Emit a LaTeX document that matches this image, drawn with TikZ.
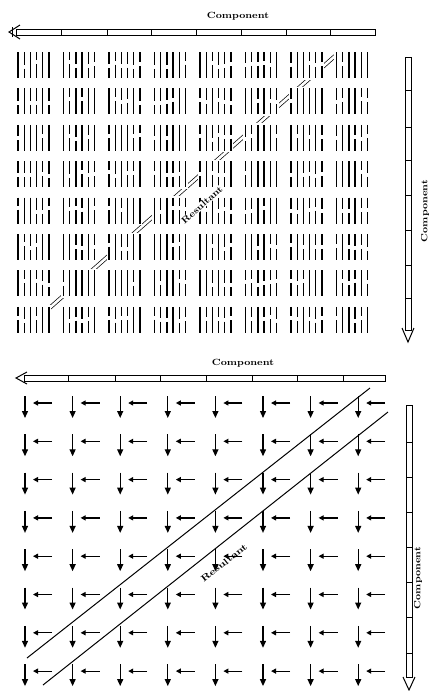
\documentclass[tikz,border=0pt]{standalone}
\usetikzlibrary{arrows.meta}
\begin{document}
\begin{tikzpicture}[x=1pt,y=-1pt,
  lab/.style={font=\fontsize{9}{10}\selectfont\bfseries, inner sep=0.5pt},
  bar/.style={line width=0.8pt, fill=white},
  tick/.style={line width=0.8pt},
  chev/.style={line width=1pt, line join=miter},
  dashln/.style={line width=1.35pt},
  downarr/.style={line width=1.3pt, -{Triangle[width=6pt,length=7pt]}},
  leftarr/.style={line width=1.2pt, -{Triangle[width=5pt,length=5pt]}},
  resline/.style={line width=1pt},
  resdouble/.style={line width=0.7pt, double, double distance=2.6pt},
]
\useasboundingbox (0,0) rectangle (431,691);

% ---------- top panel ----------
\node[lab] (ctop) at (238,16.5) {\scalebox{1.15}[1]{Component}};
% horizontal component bar (top)
\draw[bar] (16,29) rectangle (375,35);
\foreach \x in {61,107,151,196,241,286,330} \draw[tick] (\x,29) -- (\x,35);
\coordinate (tatip) at (9,32);
\draw[chev] (20,25) -- (tatip) -- (20,39);
\draw[chev] (12,27) -- (12,37);
% vertical component bar (top)
\draw[bar] (405,57) rectangle (411,330);
\foreach \y in {90,127,160,195,230,265,298} \draw[tick] (405,\y) -- (411,\y);
\coordinate (vatip) at (408,342);
\draw[chev] (402,328) -- (vatip) -- (414,328);
\node[lab, rotate=90] (crt) at (425,211) {\scalebox{1.15}[1]{Component}};

% resultant (double line) behind the grid
\coordinate (ra) at (45,312);
\coordinate (rb) at (335,56);
\draw[resdouble] (ra) -- (rb);

% grid of line blocks
\pgfmathsetseed{12}
\foreach \i in {0,...,7} {
  \foreach \j in {0,...,7} {
    \pgfmathsetmacro\xo{17+45.5*\i}
    \pgfmathsetmacro\yo{52+36.4*\j}
    \fill[white] (\xo-1.5,\yo-1.5) rectangle (\xo+34,\yo+27.5);
    \foreach \k in {0,...,5} {
      \pgfmathsetmacro\xx{\xo+1+6.2*\k}
      \pgfmathsetmacro\myr{rnd}
      \pgfmathsetmacro\myg{\yo+10+5*rnd}
      \ifdim\myr pt<0.4pt
        \draw[dashln] (\xx,\yo) -- (\xx,\yo+26);
      \else
        \draw[dashln] (\xx,\yo) -- (\xx,\myg-2) (\xx,\myg+2) -- (\xx,\yo+26);
      \fi
    }
  }
}
\node[lab, rotate=41.7, fill=white] (rtop) at (202,205) {\scalebox{1.15}[1]{Resultant}};

% ---------- bottom panel ----------
\node[lab] (cbot) at (243,363) {\scalebox{1.15}[1]{Component}};
\draw[bar] (24,375) rectangle (385,381);
\foreach \x in {68,115,160,206,252,297,343} \draw[tick] (\x,375) -- (\x,381);
\coordinate (tbtip) at (16,378);
\draw[chev] (27,372) -- (tbtip) -- (27,384);
\draw[bar] (406,405) rectangle (412,677);
\foreach \y in {442,477,512,547,582,617,653} \draw[tick] (406,\y) -- (412,\y);
\coordinate (vbtip) at (409,690);
\draw[chev] (403,677) -- (vbtip) -- (415,677);
\node[lab, rotate=90] (crb) at (418,578) {\scalebox{1.15}[1]{Component}};

% arrow pairs
\foreach \i in {0,...,7} {
  \foreach \j in {0,...,7} {
    \pgfmathsetmacro\xa{25+47.6*\i}
    \pgfmathsetmacro\ya{407+38.3*\j}
    \draw[downarr] (\xa,\ya-11) -- (\xa,\ya+11);
    \draw[leftarr] (\xa+27,\ya-4) -- (\xa+8,\ya-4);
  }
}
% resultant lines
\coordinate (b1) at (27,658);
\coordinate (b2) at (370,388);
\coordinate (b3) at (43,685);
\coordinate (b4) at (388,412);
\draw[resline] (b1) -- (b2);
\draw[resline] (b3) -- (b4);
\node[lab, rotate=38.3] (rbot) at (224,563) {\scalebox{1.25}[1]{Resultant}};
\end{tikzpicture}
\end{document}
